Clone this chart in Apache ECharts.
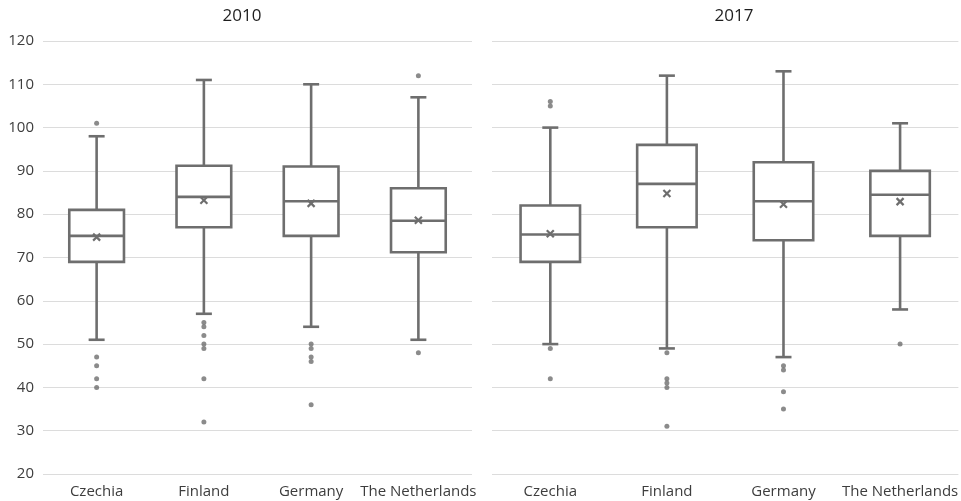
<!DOCTYPE html>
<html>
<head>
<meta charset="utf-8">
<script src="https://cdn.jsdelivr.net/npm/echarts@6/dist/echarts.min.js"></script>
<style>html,body{margin:0;padding:0;background:#fff}#c{width:961px;height:501px}</style>
</head>
<body>
<div id="c"></div>
<script>
var categories = ['Czechia', 'Finland', 'Germany', 'The Netherlands'];
var yTicks = [20, 30, 40, 50, 60, 70, 80, 90, 100, 110, 120];
// [min whisker, Q1, median, Q3, max whisker]
var box2010 = [[51, 69, 75, 81, 98], [57, 77, 84, 91.2, 111], [54, 75, 83, 91, 110], [51, 71.2, 78.5, 86, 107]];
var mean2010 = [74.7, 83.2, 82.5, 78.6];
var outliers2010 = [[101, 47, 45, 42, 40], [55, 54, 52, 50, 49, 42, 32], [50, 49, 47, 46, 36], [112, 48]];
var box2017 = [[50, 69, 75.3, 82, 100], [49, 77, 87, 96, 112], [47, 74, 83, 92, 113], [58, 75, 84.5, 90, 101]];
var mean2017 = [75.5, 84.8, 82.3, 82.9];
var outliers2017 = [[106, 105, 49, 42], [48, 42, 41, 40, 31], [45, 44, 39, 35], [50]];

var C = '#6e6e6e';
var LW = 2.6;

function boxRender(params, api) {
  var x = api.value(0);
  var pMin = api.coord([x, api.value(1)]);
  var pQ1 = api.coord([x, api.value(2)]);
  var pMed = api.coord([x, api.value(3)]);
  var pQ3 = api.coord([x, api.value(4)]);
  var pMax = api.coord([x, api.value(5)]);
  var band = api.size([1, 0])[0];
  var bw = band * 0.51;
  var cap = 16;
  var cx = pMed[0];
  var st = {stroke: C, lineWidth: LW, fill: null};
  return {
    type: 'group',
    children: [
      {type: 'line', shape: {x1: cx, y1: pQ3[1], x2: cx, y2: pMax[1]}, style: st},
      {type: 'line', shape: {x1: cx, y1: pQ1[1], x2: cx, y2: pMin[1]}, style: st},
      {type: 'line', shape: {x1: cx - cap / 2, y1: pMax[1], x2: cx + cap / 2, y2: pMax[1]}, style: st},
      {type: 'line', shape: {x1: cx - cap / 2, y1: pMin[1], x2: cx + cap / 2, y2: pMin[1]}, style: st},
      {type: 'rect', shape: {x: cx - bw / 2, y: pQ3[1], width: bw, height: pQ1[1] - pQ3[1]}, style: {stroke: C, lineWidth: LW, fill: '#fff'}},
      {type: 'line', shape: {x1: cx - bw / 2, y1: pMed[1], x2: cx + bw / 2, y2: pMed[1]}, style: st}
    ]
  };
}

function meanRender(params, api) {
  var p = api.coord([api.value(0), api.value(1)]);
  var s = 3.5;
  var st = {stroke: C, lineWidth: 2.2};
  return {
    type: 'group',
    children: [
      {type: 'line', shape: {x1: p[0] - s, y1: p[1] - s, x2: p[0] + s, y2: p[1] + s}, style: st},
      {type: 'line', shape: {x1: p[0] - s, y1: p[1] + s, x2: p[0] + s, y2: p[1] - s}, style: st}
    ]
  };
}

function boxData(b) { return b.map(function (v, i) { return [i].concat(v); }); }
function meanData(m) { return m.map(function (v, i) { return [i, v]; }); }
function outData(o) {
  var r = [];
  o.forEach(function (arr, i) { arr.forEach(function (v) { r.push([i, v]); }); });
  return r;
}

var labelFont = '"Open Sans", "Noto Sans", sans-serif';

function xAxis(idx) {
  return {
    type: 'category', gridIndex: idx, data: categories,
    axisLine: {show: false}, axisTick: {show: false},
    axisLabel: {color: '#3d3d3d', fontSize: 15, margin: 10, fontFamily: labelFont, interval: 0}
  };
}
function yAxis(idx, showLabels) {
  return {
    type: 'value', gridIndex: idx, min: yTicks[0], max: yTicks[yTicks.length - 1], interval: 10,
    axisLine: {show: false}, axisTick: {show: false},
    axisLabel: {show: showLabels, color: '#3d3d3d', fontSize: 15, margin: 9, fontFamily: labelFont},
    splitLine: {show: true, lineStyle: {color: '#dcdcdc', width: 1}}
  };
}

var chart = echarts.init(document.getElementById('c'));
chart.setOption({
  animation: false,
  title: [
    {text: '2010', left: 237, top: 3, textAlign: 'center', textStyle: {fontSize: 17, fontWeight: 'normal', color: '#1e1e1e', fontFamily: labelFont}},
    {text: '2017', left: 729, top: 3, textAlign: 'center', textStyle: {fontSize: 17, fontWeight: 'normal', color: '#1e1e1e', fontFamily: labelFont}}
  ],
  grid: [
    {left: 43, right: 489, top: 41, bottom: 27},
    {left: 492, right: 1, top: 41, bottom: 27}
  ],
  xAxis: [xAxis(0), xAxis(1)],
  yAxis: [yAxis(0, true), yAxis(1, false)],
  series: [
    {type: 'custom', xAxisIndex: 0, yAxisIndex: 0, renderItem: boxRender, encode: {x: 0, y: [1, 2, 3, 4, 5]}, data: boxData(box2010), z: 2},
    {type: 'custom', xAxisIndex: 0, yAxisIndex: 0, renderItem: meanRender, encode: {x: 0, y: 1}, data: meanData(mean2010), z: 3},
    {type: 'scatter', xAxisIndex: 0, yAxisIndex: 0, symbol: 'circle', symbolSize: 5, itemStyle: {color: C}, data: outData(outliers2010), z: 3},
    {type: 'custom', xAxisIndex: 1, yAxisIndex: 1, renderItem: boxRender, encode: {x: 0, y: [1, 2, 3, 4, 5]}, data: boxData(box2017), z: 2},
    {type: 'custom', xAxisIndex: 1, yAxisIndex: 1, renderItem: meanRender, encode: {x: 0, y: 1}, data: meanData(mean2017), z: 3},
    {type: 'scatter', xAxisIndex: 1, yAxisIndex: 1, symbol: 'circle', symbolSize: 5, itemStyle: {color: C}, data: outData(outliers2017), z: 3}
  ]
});
</script>
</body>
</html>
